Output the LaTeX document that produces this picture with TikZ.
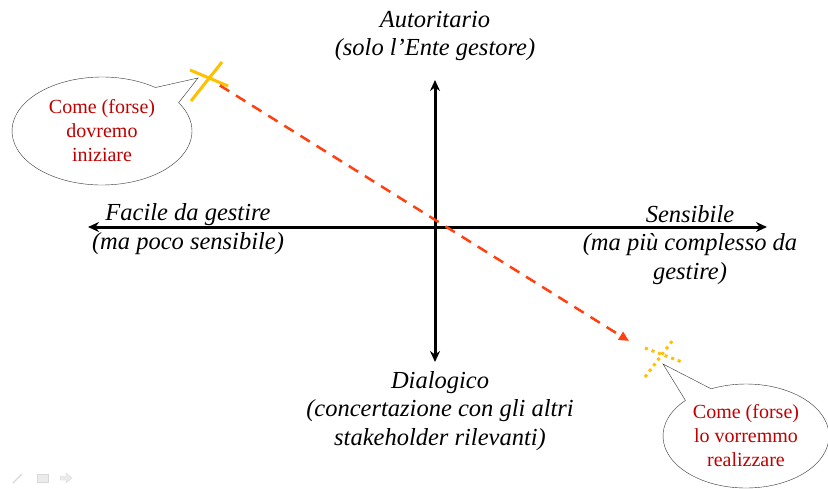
\documentclass[tikz,border=0pt]{standalone}
\usepackage{fontspec}
\setmainfont{Liberation Serif}
\usetikzlibrary{positioning,calc,arrows.meta,shapes.callouts}
\definecolor{textred}{HTML}{C00000}
\definecolor{dashred}{HTML}{FF4010}
\definecolor{crossyellow}{HTML}{FFC000}

\begin{document}
\begin{tikzpicture}[x=1pt,y=-1pt,
      axis/.style={line width=3pt,{Stealth[length=11pt,width=10pt]}-{Stealth[length=11pt,width=10pt]}},
      lbl/.style={font=\fontsize{24.5}{28.5}\selectfont\itshape,align=center,inner sep=0pt},
      bubble/.style={ellipse callout,draw=black!80,thin,fill=white,
                     font=\fontsize{20}{24}\selectfont,text=textred,align=center,
                     inner sep=0pt,callout pointer arc=22},
      cross/.style={crossyellow,line width=3pt}]
    \useasboundingbox[fill=white] (0,0) rectangle (828,488);
    % axes
    \coordinate (top) at (435,80);
    \coordinate (bottom) at (435,362);
    \coordinate (west) at (88,227);
    \coordinate (east) at (767,227);
    \draw[axis] (bottom)--(top);
    \draw[axis] (west)--(east);
    % axis labels
    \node[lbl] (auto) at (435,36) {Autoritario\\(solo l'Ente gestore)};
    \node[lbl] (facile) at (188,229) {Facile da gestire\\(ma poco sensibile)};
    \node[lbl] (sens) at (690,245) {Sensibile\\(ma più complesso da\\gestire)};
    \node[lbl] (dial) at (440,411) {Dialogico\\(concertazione con gli altri\\stakeholder rilevanti)};
    % crosses
    \coordinate (now) at (208,78);
    \coordinate (later) at (662,356);
    \draw[cross] (191,101)--(222,62) (190,70)--(228,86);
    \draw[cross,dash pattern=on 3pt off 4pt] (645,377)--(673,340) (645,348)--(682,362);
    % path
    \draw[dashred,line width=2.5pt,dash pattern=on 11pt off 8pt,shorten <=14pt,
          -{Triangle[length=10pt,width=9pt]}] (now)--(629,341);
    % callouts
    \node[bubble,minimum width=180pt,minimum height=108pt,
          callout absolute pointer={(198,78)}] (start) at (102,131)
          {Come (forse)\\dovremo\\iniziare};
    \node[bubble,minimum width=166pt,minimum height=104pt,
          callout absolute pointer={(663,364)}] (goal) at (746,436)
          {Come (forse)\\lo vorremmo\\realizzare};
    % toolbar
    \draw[black!15,line width=1.2pt] (13,483)--(22,474);
    \draw[black!15,fill=black!8] (37,474) rectangle (48,482);
    \draw[black!15,fill=black!8] (60,476)--(66,476)--(66,473)--(72,478)--(66,483)--(66,480)--(60,480)--cycle;
\end{tikzpicture}
\end{document}
